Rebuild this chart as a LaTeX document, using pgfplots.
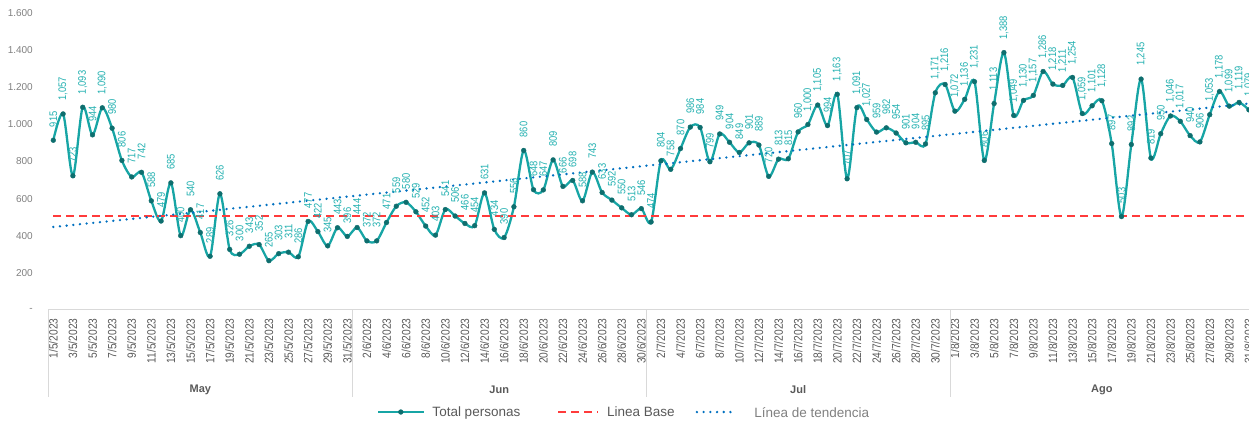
\documentclass[border=0pt]{standalone}
\usepackage{fontspec}
\setmainfont{Liberation Sans}
\newfontfamily\condfont{Liberation Sans}[FakeStretch=0.85]
\usepackage{pgfplots}
\usepackage{pgfplotstable}
\pgfplotsset{compat=1.18}
\definecolor{tealline}{HTML}{17A5A5}
\definecolor{tealmark}{HTML}{0E6E6E}
\definecolor{teallab}{HTML}{22B0B0}
\definecolor{basered}{HTML}{FF3B3B}
\definecolor{trendblue}{HTML}{0070C0}
\definecolor{axgray}{HTML}{D9D9D9}
\definecolor{txtgray}{HTML}{595959}
\definecolor{ytgray}{HTML}{808080}
\pgfplotsset{
  leg main/.style={legend image code/.code={\draw[mark repeat=2, mark phase=2, ##1] plot coordinates {(0pt,0pt) (22.5pt,0pt) (45pt,0pt)};}},
  leg base/.style={legend image code/.code={\draw[##1] (0pt,0pt) -- (40pt,0pt);}},
  leg trend/.style={legend image code/.code={\draw[##1] (0pt,0pt) -- (36pt,0pt);}},
}
\pgfplotstableread{
d v
0 915
1 1057
2 723
3 1093
4 944
5 1090
6 980
7 806
8 717
9 742
10 588
11 479
12 685
13 400
14 540
15 417
16 289
17 626
18 326
19 300
20 343
21 352
22 265
23 303
24 311
25 286
26 477
27 422
28 345
29 443
30 396
31 444
32 372
33 372
34 471
35 559
36 580
37 529
38 452
39 403
40 541
41 506
42 466
43 454
44 631
45 434
46 390
47 556
48 860
49 648
50 647
51 809
52 666
53 698
54 588
55 743
56 633
57 592
58 550
59 513
60 546
61 474
62 804
63 758
64 870
65 986
66 984
67 799
68 949
69 904
70 849
71 901
72 889
73 720
74 813
75 815
76 960
77 1000
78 1105
79 994
80 1163
81 707
82 1091
83 1027
84 959
85 982
86 954
87 901
88 904
89 895
90 1171
91 1216
92 1072
93 1136
94 1231
95 806
96 1113
97 1388
98 1049
99 1130
100 1157
101 1286
102 1218
103 1211
104 1254
105 1059
106 1101
107 1128
108 897
109 503
110 892
111 1245
112 819
113 950
114 1046
115 1017
116 940
117 906
118 1053
119 1178
120 1099
121 1119
122 1079
}\datatable
\begin{document}
\begin{tikzpicture}
\path[use as bounding box, clip] (0,0) rectangle (1249pt,424pt);
\begin{axis}[
  at={(48.4pt,114.2pt)}, anchor=south west,
  scale only axis, width=1205.4pt, height=296.5pt,
  xmin=-0.5, xmax=122.5, ymin=0, ymax=1600,
  axis x line*=bottom, axis y line*=left,
  x axis line style={draw=axgray, line width=1pt, -},
  y axis line style={draw=none},
  major tick length=0pt,
  ytick={0,200,...,1600},
  yticklabels={-\hspace{5pt},200,400,600,800,1.000,1.200,1.400,1.600},
  yticklabel style={font=\fontsize{10pt}{10pt}\selectfont, text=ytgray, inner sep=0pt, xshift=-15.4pt},
  xtick={0,2,...,122},
  xticklabels={1/5/2023,3/5/2023,5/5/2023,7/5/2023,9/5/2023,11/5/2023,13/5/2023,15/5/2023,17/5/2023,19/5/2023,21/5/2023,23/5/2023,25/5/2023,27/5/2023,29/5/2023,31/5/2023,
2/6/2023,4/6/2023,6/6/2023,8/6/2023,10/6/2023,12/6/2023,14/6/2023,16/6/2023,18/6/2023,20/6/2023,22/6/2023,24/6/2023,26/6/2023,28/6/2023,30/6/2023,
2/7/2023,4/7/2023,6/7/2023,8/7/2023,10/7/2023,12/7/2023,14/7/2023,16/7/2023,18/7/2023,20/7/2023,22/7/2023,24/7/2023,26/7/2023,28/7/2023,30/7/2023,
1/8/2023,3/8/2023,5/8/2023,7/8/2023,9/8/2023,11/8/2023,13/8/2023,15/8/2023,17/8/2023,19/8/2023,21/8/2023,23/8/2023,25/8/2023,27/8/2023,29/8/2023,31/8/2023},
  xticklabel style={font=\condfont\fontsize{12pt}{12pt}\selectfont, text=txtgray, yshift=-8.5pt, rotate=90, anchor=east, inner sep=0pt},
  clip=false,
  legend columns=3,
  legend cell align=left,
  legend style={at={(axis description cs:0.2726,-0.3447)}, anchor=west, draw=none, fill=none, inner sep=0pt,
    font=\fontsize{13.5pt}{13.5pt}\selectfont, text=txtgray, nodes={inner sep=0pt},
    /tikz/column 1/.style={column sep=8pt},
    /tikz/column 2/.style={column sep=37pt},
    /tikz/column 3/.style={column sep=8pt},
    /tikz/column 4/.style={column sep=21pt},
    /tikz/column 5/.style={column sep=20pt}},
]
\addplot[tealline, line width=2.3pt, smooth, mark=*, mark size=2.4pt,
  mark options={solid, draw=tealmark, fill=tealmark, line width=0.4pt},
  nodes near coords={\pgfmathprintnumber[assume math mode=true,1000 sep={,}]{\pgfplotspointmeta}},
  every node near coord/.append style={yshift=13pt, rotate=90, anchor=west, inner sep=0pt,
     font=\condfont\fontsize{11pt}{11pt}\selectfont, text=teallab},
  leg main
] table[x=d, y=v] {\datatable};
\addlegendentry{Total personas}
\addplot[basered, line width=1.8pt, dash pattern=on 8pt off 5pt, leg base
] coordinates {(0,505) (122,505)};
\addlegendentry{Linea Base}
\addplot[trendblue, line width=2.6pt, line cap=round, dash pattern=on 0pt off 6.7pt, leg trend
] table[x=d, y={create col/linear regression={y=v}}] {\datatable};
\addlegendentry{\textcolor{ytgray}{\raisebox{-3pt}{Línea de tendencia}}}
\draw[axgray, line width=1pt] (axis cs:-0.5,0) -- ++(0pt,-87pt);
\draw[axgray, line width=1pt] (axis cs:30.5,0) -- ++(0pt,-87pt);
\draw[axgray, line width=1pt] (axis cs:60.5,0) -- ++(0pt,-87pt);
\draw[axgray, line width=1pt] (axis cs:91.5,0) -- ++(0pt,-87pt);
\node[yshift=-80pt, font=\bfseries\fontsize{11pt}{11pt}\selectfont, text=txtgray] at (axis cs:15,0) {May};
\node[yshift=-80pt, font=\bfseries\fontsize{11pt}{11pt}\selectfont, text=txtgray] at (axis cs:45.5,0) {Jun};
\node[yshift=-80pt, font=\bfseries\fontsize{11pt}{11pt}\selectfont, text=txtgray] at (axis cs:76,0) {Jul};
\node[yshift=-80pt, font=\bfseries\fontsize{11pt}{11pt}\selectfont, text=txtgray] at (axis cs:107,0) {Ago};
\end{axis}
\end{tikzpicture}
\end{document}
